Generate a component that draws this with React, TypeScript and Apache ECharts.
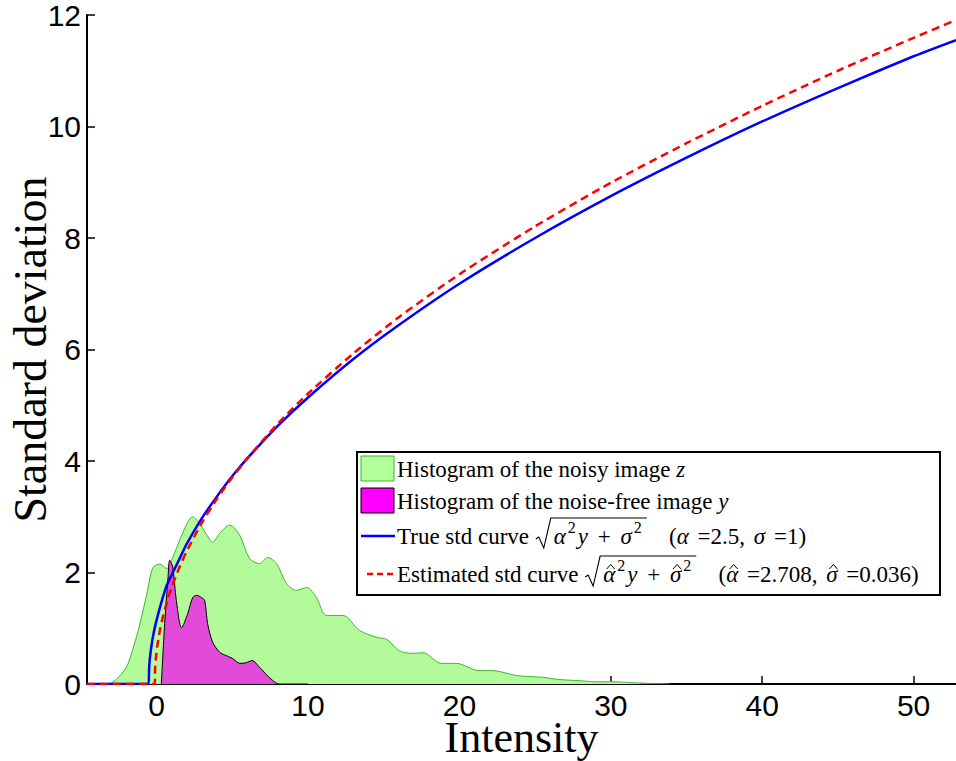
import React, { useEffect, useRef } from 'react';
import * as echarts from 'echarts';

// ---- data ----
const xTicks = [0, 10, 20, 30, 40, 50];
const yTicks = [0, 2, 4, 6, 8, 10, 12];

// histogram of the noisy image z (green)
const noisyX = [-3.1, -2.6, -2.0, -1.6, -1.1, -0.6, -0.26, 0.2, 0.66, 1.06, 1.52, 2.05, 2.38, 2.84, 3.3, 3.7, 4.16, 4.82, 5.48, 6.14, 6.8, 7.33, 7.92, 8.58, 9.24, 9.9, 10.56, 11.2, 12.3, 13.4, 14.5, 15.2, 16.0, 16.8, 17.6, 18.8, 19.8, 21.3, 22.2, 23.8, 25.5, 26.6, 27.9, 29.0, 30.1, 31.7, 33.9];
const noisyY = [0, 0.1, 0.3, 0.6, 1.08, 1.68, 2.08, 2.15, 2.07, 2.27, 2.58, 2.9, 3.0, 2.88, 2.68, 2.54, 2.7, 2.85, 2.67, 2.25, 2.16, 2.27, 2.16, 1.8, 1.68, 1.73, 1.55, 1.23, 1.23, 0.96, 0.84, 0.8, 0.6, 0.55, 0.56, 0.37, 0.37, 0.24, 0.24, 0.15, 0.12, 0.08, 0.06, 0.04, 0.04, 0.02, 0];

// histogram of the noise-free image y (magenta)
const cleanX = [0.31, 0.53, 0.75, 0.86, 1.06, 1.3, 1.65, 2.05, 2.38, 2.64, 2.97, 3.17, 3.37, 3.7, 4.16, 4.5, 5.0, 5.5, 5.9, 6.3, 6.8, 7.4, 8.1, 10.0];
const cleanY = [0, 1.08, 1.9, 2.22, 2.1, 1.5, 1.01, 1.26, 1.55, 1.59, 1.55, 1.5, 1.08, 0.75, 0.57, 0.52, 0.46, 0.37, 0.38, 0.42, 0.3, 0.13, 0, 0];

// true std curve (blue)
const trueX = [-4.6, -0.53, -0.5, -0.45, -0.35, -0.2, 0, 0.3, 0.64, 1, 1.5, 2, 3, 4, 5, 6, 8, 10, 13, 16, 20, 25, 30, 35, 40, 45, 50, 52.8];
const trueY = [0, 0, 0.27, 0.45, 0.67, 0.91, 1.15, 1.45, 1.75, 1.96, 2.24, 2.52, 2.98, 3.37, 3.73, 4.05, 4.63, 5.14, 5.83, 6.44, 7.18, 8.0, 8.75, 9.44, 10.09, 10.69, 11.26, 11.55];

// estimated std curve (red dashed)
const estX = [-4.6, -0.13, -0.1, -0.05, 0.05, 0.2, 0.4, 0.7, 1, 1.5, 2, 3, 4, 5, 6, 8, 10, 13, 16, 20, 25, 30, 35, 40, 45, 50, 52.8];
const estY = [0, 0, 0.28, 0.46, 0.69, 0.94, 1.19, 1.49, 1.74, 2.09, 2.39, 2.9, 3.33, 3.71, 4.05, 4.67, 5.21, 5.93, 6.58, 7.35, 8.21, 8.99, 9.7, 10.37, 11.0, 11.59, 11.91];

const pairs = (xs: number[], ys: number[]) => xs.map((x, i) => [x, ys[i]]);

// ---- legend layout helpers ----
type Seg = { t?: string; it?: boolean; sup?: boolean; hat?: boolean; rad?: 'open' | 'close'; pre?: number; post?: number };
const FS = 23;
const SUP = 16;
const FAM = '"Liberation Serif", "Times New Roman", serif';

let ctx: CanvasRenderingContext2D | null = null;
function measure(text: string, font: string): number {
  if (!ctx) ctx = document.createElement('canvas').getContext('2d');
  if (!ctx) return text.length * 10;
  ctx.font = font;
  return ctx.measureText(text).width;
}

function buildRow(segs: Seg[], x0: number, cy: number, els: any[]) {
  let x = x0;
  let radStart = 0;
  for (const s of segs) {
    x += s.pre || 0;
    if (s.rad === 'open') {
      radStart = x;
      x += 19;
      continue;
    }
    if (s.rad === 'close') {
      els.push({
        type: 'polyline',
        z: 101,
        shape: { points: [[radStart + 1, cy + 3], [radStart + 4, cy + 1], [radStart + 9, cy + 12], [radStart + 16, cy - 18], [x + 1, cy - 18]] },
        style: { stroke: '#000', lineWidth: 1.1, fill: 'none' },
      });
      x += s.post || 0;
      continue;
    }
    const size = s.sup ? SUP : FS;
    const style = s.it ? 'italic' : 'normal';
    const w = measure(s.t || '', `${style} ${size}px ${FAM}`);
    els.push({
      type: 'text',
      z: 101,
      x,
      y: s.sup ? cy - 9 : cy,
      style: {
        text: s.t,
        fontSize: size,
        fontFamily: FAM,
        fontStyle: style,
        fill: '#000',
        align: 'left',
        verticalAlign: 'middle',
      },
    });
    if (s.hat) {
      const xc = x + w / 2 + 1.5;
      els.push({
        type: 'polyline',
        z: 101,
        shape: { points: [[xc - 4, cy - 5], [xc, cy - 9.5], [xc + 4, cy - 5]] },
        style: { stroke: '#000', lineWidth: 1, fill: 'none' },
      });
    }
    x += w + (s.post || 0);
  }
}

export default function App() {
  const ref = useRef<HTMLDivElement>(null);
  useEffect(() => {
    document.body.style.margin = '0';
    const chart = echarts.init(ref.current!, null, { renderer: 'svg' });

    const legendEls: any[] = [
      { type: 'rect', z: 100, shape: { x: 357, y: 452, width: 583, height: 143 }, style: { fill: '#fff', stroke: '#000', lineWidth: 2 } },
      { type: 'rect', z: 101, shape: { x: 361, y: 456, width: 33, height: 25 }, style: { fill: '#b3ff99', stroke: '#3cb82c', lineWidth: 1 } },
      { type: 'rect', z: 101, shape: { x: 361, y: 488, width: 33, height: 25 }, style: { fill: '#ff00ff', stroke: '#000', lineWidth: 1 } },
      { type: 'line', z: 101, shape: { x1: 361, y1: 536, x2: 395, y2: 536 }, style: { stroke: '#0000ff', lineWidth: 2.5 } },
      { type: 'line', z: 101, shape: { x1: 367, y1: 574, x2: 395, y2: 574 }, style: { stroke: '#ff0000', lineWidth: 2.5, lineDash: [6, 4] } },
    ];
    const tx = 397;
    const radicand = (hat: boolean): Seg[] => [
      { t: 'α', it: true, hat },
      { t: '2', sup: true, pre: 2 },
      { t: 'y', it: true, pre: 2 },
      { t: ' + ', pre: 4, post: 4 },
      { t: 'σ', it: true, hat },
      { t: '2', sup: true, pre: 2 },
    ];
    buildRow([{ t: 'Histogram of the noisy image ' }, { t: 'z', it: true }], tx, 469, legendEls);
    buildRow([{ t: 'Histogram of the noise-free image ' }, { t: 'y', it: true }], tx, 501, legendEls);
    buildRow([
      { t: 'True std curve ' }, { rad: 'open' },
      ...radicand(false),
      { rad: 'close', pre: 4 },
      { t: '   (', pre: 6 }, { t: 'α', it: true, post: 3 }, { t: ' =2.5, ', post: 3 }, { t: 'σ', it: true, post: 3 }, { t: ' =1)' },
    ], tx, 536, legendEls);
    buildRow([
      { t: 'Estimated std curve ' }, { rad: 'open' },
      ...radicand(true),
      { rad: 'close', pre: 4 },
      { t: '   (', pre: 6 }, { t: 'α', it: true, hat: true, post: 3 }, { t: ' =2.708, ', post: 3 }, { t: 'σ', it: true, hat: true, post: 3 }, { t: ' =0.036)' },
    ], tx, 574, legendEls);

    const tickFont = '"Liberation Sans", Arial, sans-serif';
    const option: any = {
      animation: false,
      backgroundColor: '#fff',
      grid: { left: 87, right: 0, top: 15, bottom: 77, containLabel: false, outerBoundsMode: 'none' },
      xAxis: {
        type: 'value',
        min: -4.6,
        max: 52.8,
        splitLine: { show: false },
        axisLine: { onZero: false, lineStyle: { color: '#000', width: 2 } },
        axisTick: { inside: true, length: 8, customValues: xTicks, lineStyle: { color: '#000', width: 1.5 } },
        axisLabel: {
          customValues: xTicks,
          fontFamily: tickFont,
          fontSize: 30,
          lineHeight: 26,
          color: '#000',
          margin: 8,
          formatter: (v: number) => (Math.abs(v % 10) < 1e-9 ? String(v) : ''),
        },
        name: 'Intensity',
        nameLocation: 'middle',
        nameGap: 36,
        nameMoveOverlap: false,
        nameTextStyle: { fontFamily: FAM, fontSize: 44, color: '#000', lineHeight: 34 },
      },
      yAxis: {
        type: 'value',
        min: 0,
        max: 12,
        interval: 2,
        splitLine: { show: false },
        axisLine: { onZero: false, lineStyle: { color: '#000', width: 2 } },
        axisTick: { inside: true, length: 8, customValues: yTicks, lineStyle: { color: '#000', width: 1.5 } },
        axisLabel: {
          fontFamily: tickFont,
          fontSize: 30,
          color: '#000',
          margin: 6,
        },
        name: 'Standard deviation',
        nameLocation: 'middle',
        nameGap: 34,
        nameMoveOverlap: false,
        nameTextStyle: { fontFamily: FAM, fontSize: 46, color: '#000' },
      },
      series: [
        {
          name: 'Histogram of the noisy image z',
          type: 'line',
          data: pairs(noisyX, noisyY),
          smooth: 0.3,
          symbol: 'none',
          lineStyle: { color: '#3cb82c', width: 1 },
          areaStyle: { color: '#b3fa9a', opacity: 1 },
          z: 1,
        },
        {
          name: 'Histogram of the noise-free image y',
          type: 'line',
          data: pairs(cleanX, cleanY),
          smooth: 0.3,
          symbol: 'none',
          lineStyle: { color: '#000', width: 1 },
          areaStyle: { color: '#e24bd9', opacity: 1 },
          z: 2,
        },
        {
          name: 'True std curve',
          type: 'line',
          data: pairs(trueX, trueY),
          smooth: 0.2,
          symbol: 'none',
          lineStyle: { color: '#0000ff', width: 2.5 },
          z: 3,
        },
        {
          name: 'Estimated std curve',
          type: 'line',
          data: pairs(estX, estY),
          smooth: 0.2,
          symbol: 'none',
          lineStyle: { color: '#ff0000', width: 2.5, type: [8, 5] },
          z: 4,
        },
      ],
      graphic: legendEls,
    };
    chart.setOption(option);
    return () => chart.dispose();
  }, []);
  return <div ref={ref} style={{ width: 956, height: 761 }} />;
}
